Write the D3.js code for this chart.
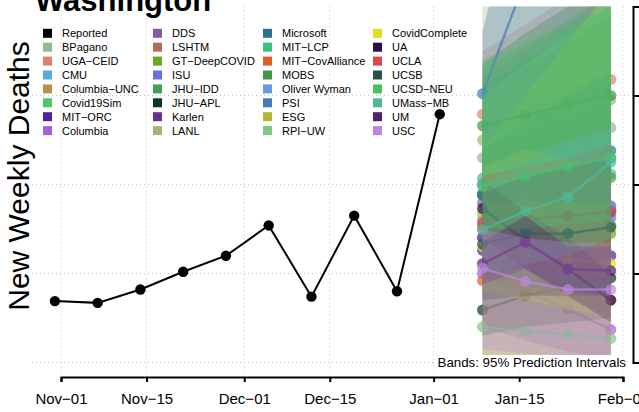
<!DOCTYPE html>
<html>
<head>
<meta charset="utf-8">
<script src="https://cdn.jsdelivr.net/npm/d3@7"></script>
<style>
  body { margin: 0; background: #fff; }
  svg { display: block; font-family: "Liberation Sans", Arial, sans-serif; }
</style>
</head>
<body>
<div id="chart"></div>
<script>
// observed weekly deaths (week ending Saturday)
const reportedDates = ["2020-10-31","2020-11-07","2020-11-14","2020-11-21","2020-11-28",
  "2020-12-05","2020-12-12","2020-12-19","2020-12-26","2021-01-02"];
const reportedValues = [69, 67, 82, 102, 120, 154, 74, 165, 80, 279];

// forecast target weeks
const forecastDates = ["2021-01-09","2021-01-16","2021-01-23","2021-01-30"];

const modelNames = ["BPagano","UGA\u2212CEID","CMU","Columbia\u2212UNC","Covid19Sim","MIT\u2212ORC","Columbia",
  "DDS","LSHTM","GT\u2212DeepCOVID","ISU","JHU\u2212IDD","JHU\u2212APL","Karlen","LANL",
  "Microsoft","MIT\u2212LCP","MIT\u2212CovAlliance","MOBS","Oliver Wyman","PSI","ESG","RPI\u2212UW",
  "CovidComplete","UA","UCLA","UCSB","UCSD\u2212NEU","UMass\u2212MB","UM","USC"];

const modelColors = ["#8FBC8F","#E0826A","#4EB0DC","#B8904A","#50C868","#5020A0","#A860D8",
  "#8858A8","#B86A58","#68A820","#6870E0","#48A058","#0A3A22","#6A3098","#A0B870",
  "#2A7090","#40C080","#D86028","#409848","#6898E0","#4A78B8","#B0B838","#80C880",
  "#E0E020","#2A1040","#D84848","#2A5048","#48C060","#50B898","#502068","#B888E0"];

// point forecasts (medians)
const medians = [
  [230,240,252,264],[279,292,305,318],[141,146,150,155],[150,158,165,172],[188,196,204,212],
  [126,124,122,120],[100,80,60,37],[179,178,177,176],[154,160,165,168],[188,175,160,145],
  [201,190,175,163],[190,197,203,208],[59,75,85,95],[140,150,160,170],[250,265,280,295],
  [188,205,220,238],[207,215,222,230],[92,85,78,70],[266,278,290,300],[160,165,170,175],
  [302,430,560,690],[167,182,173,153],[40,35,32,27],[130,122,116,111],[173,137,105,70],
  [157,161,165,170],[133,145,145,152],[198,209,220,230],[149,170,186,225],[111,135,105,103],
  [106,91,82,82]
];

// 95% prediction intervals
const lower = [
  [150,140,130,120],[200,200,200,200],[80,70,60,50],[90,80,70,60],[140,140,140,140],
  [95,90,85,80],[40,25,12,5],[120,110,100,90],[100,90,80,70],[130,110,90,70],
  [110,90,70,50],[130,130,130,130],[30,40,45,50],[100,105,110,115],[170,170,170,170],
  [140,145,150,155],[150,150,150,150],[8,8,8,8],[180,180,180,180],[100,100,100,100],
  [240,300,360,420],[110,120,110,90],[6,5,4,4],[80,70,60,50],[140,105,75,45],
  [110,105,100,95],[70,75,75,75],[150,150,155,160],[100,110,120,140],[88,105,80,75],
  [15,10,8,6]
];
const upper = [
  [320,350,380,410],[350,380,410,440],[210,225,240,255],[230,245,260,275],[330,355,385,415],
  [160,160,160,160],[160,150,140,130],[240,250,260,270],[220,240,260,280],[260,280,300,320],
  [280,290,300,310],[300,330,360,390],[100,120,140,160],[190,200,210,220],[450,480,510,540],
  [240,270,300,330],[310,340,370,400],[150,150,150,150],[335,370,400,430],[220,235,250,265],
  [372,560,760,960],[220,240,230,210],[300,335,370,405],[180,180,180,180],[205,170,140,100],
  [210,220,230,245],[190,210,220,230],[340,360,380,400],[200,225,245,260],[135,165,130,130],
  [150,140,135,135]
];

const xTicks = ["2020-11-01","2020-11-15","2020-12-01","2020-12-15","2021-01-01","2021-01-15","2021-02-01"];
const xTickLabels = ["Nov\u221201","Nov\u221215","Dec\u221201","Dec\u221215","Jan\u221201","Jan\u221215","Feb\u221201"];
const yTicks = [0, 100, 200, 300, 400];

const width = 639;
const height = 412;
const parse = d3.utcParse("%Y-%m-%d");

const svg = d3.select("#chart").append("svg")
  .attr("width", width)
  .attr("height", height);

const xScale = d3.scaleUtc()
  .domain([parse("2020-11-01"), parse("2021-02-01")])
  .range([61, 623]);

const yScale = d3.scaleLinear()
  .domain([0, 400])
  .range([362.5, 6.5]);

const plotLeft = 32, plotRight = 633, plotTop = 6.5, plotBottom = 377;

svg.append("clipPath").attr("id", "plotClip")
  .append("rect")
  .attr("x", plotLeft).attr("y", plotTop)
  .attr("width", plotRight - plotLeft).attr("height", plotBottom - plotTop);

// grid
const grid = svg.append("g").attr("stroke", "#c4c4c4").attr("stroke-dasharray", "1,3");
grid.selectAll("line.h").data(yTicks.slice(0, 4)).join("line")
  .attr("x1", plotLeft).attr("x2", plotRight)
  .attr("y1", d => yScale(d)).attr("y2", d => yScale(d));
grid.selectAll("line.v").data(xTicks).join("line")
  .attr("x1", d => xScale(parse(d))).attr("x2", d => xScale(parse(d)))
  .attr("y1", plotTop).attr("y2", 375);

// forecasts: each model draws band, then median line and points
const fc = svg.append("g").attr("clip-path", "url(#plotClip)");
const fDates = forecastDates.map(parse);

const band = d3.area()
  .x((d, i) => xScale(fDates[i]))
  .y0(d => yScale(d[0]))
  .y1(d => yScale(d[1]));

const medLine = d3.line()
  .x((d, i) => xScale(fDates[i]))
  .y(d => yScale(d));

modelNames.forEach((name, k) => {
  const g = fc.append("g");
  g.append("path")
    .datum(lower[k].map((v, i) => [v, upper[k][i]]))
    .attr("d", band)
    .attr("fill", modelColors[k])
    .attr("fill-opacity", 0.33);
  g.append("path")
    .datum(medians[k])
    .attr("d", medLine)
    .attr("fill", "none")
    .attr("stroke", modelColors[k])
    .attr("stroke-width", 2.5)
    .attr("stroke-opacity", 0.7);
  g.selectAll("circle").data(medians[k]).join("circle")
    .attr("cx", (d, i) => xScale(fDates[i]))
    .attr("cy", d => yScale(d))
    .attr("r", 5.5)
    .attr("fill", modelColors[k])
    .attr("fill-opacity", 0.7);
});

// reported series
const rep = reportedDates.map((d, i) => ({ date: parse(d), value: reportedValues[i] }));
svg.append("path")
  .datum(rep)
  .attr("d", d3.line().x(d => xScale(d.date)).y(d => yScale(d.value)))
  .attr("fill", "none")
  .attr("stroke", "#000")
  .attr("stroke-width", 2);
svg.append("g").selectAll("circle").data(rep).join("circle")
  .attr("cx", d => xScale(d.date))
  .attr("cy", d => yScale(d.value))
  .attr("r", 5.2)
  .attr("fill", "#000");

// x axis
const xAxis = d3.axisBottom(xScale)
  .tickValues(xTicks.map(parse))
  .tickFormat((d, i) => xTickLabels[i])
  .tickSizeOuter(0)
  .tickSize(5)
  .tickPadding(11);
const gx = svg.append("g").attr("transform", `translate(0,${plotBottom})`).call(xAxis);
gx.select(".domain").attr("stroke-width", 2);
gx.selectAll(".tick line").attr("stroke-width", 2);
gx.selectAll("text").attr("font-size", 15).attr("fill", "#000")
  .attr("font-family", "Liberation Sans, Arial, sans-serif");

// right y axis (labels fall outside the frame)
const yAxis = d3.axisRight(yScale).tickValues(yTicks).tickFormat("").tickSizeOuter(0).tickSize(6);
const gy = svg.append("g").attr("transform", `translate(${plotRight},0)`).call(yAxis);
gy.select(".domain").attr("stroke-width", 2);
gy.selectAll(".tick line").attr("stroke-width", 2);

// note
svg.append("rect").attr("x", 436).attr("y", 355).attr("width", 194).attr("height", 16).attr("fill", "#fff");
svg.append("text")
  .attr("x", 626).attr("y", 366.5)
  .attr("text-anchor", "end")
  .attr("font-size", 13.3)
  .text("Bands: 95% Prediction Intervals");

// title and y label
svg.append("text")
  .attr("x", 35).attr("y", 11)
  .attr("font-size", 31)
  .attr("font-weight", "bold")
  .text("Washington");

svg.append("text")
  .attr("transform", "translate(29,176) rotate(-90)")
  .attr("text-anchor", "middle")
  .attr("font-size", 30)
  .text("New Weekly Deaths");

// legend
const legendNames = ["Reported"].concat(modelNames);
const legendColors = ["#000000"].concat(modelColors);
const legend = svg.append("g");
legendNames.forEach((name, i) => {
  const col = Math.floor(i / 8), row = i % 8;
  const lx = 43 + col * 110, ly = 33.3 + row * 13.9;
  legend.append("rect")
    .attr("x", lx).attr("y", ly - 4.5)
    .attr("width", 9).attr("height", 9)
    .attr("fill", legendColors[i]);
  legend.append("text")
    .attr("x", lx + 19).attr("y", ly + 4)
    .attr("font-size", 11)
    .text(name);
});
</script>
</body>
</html>
